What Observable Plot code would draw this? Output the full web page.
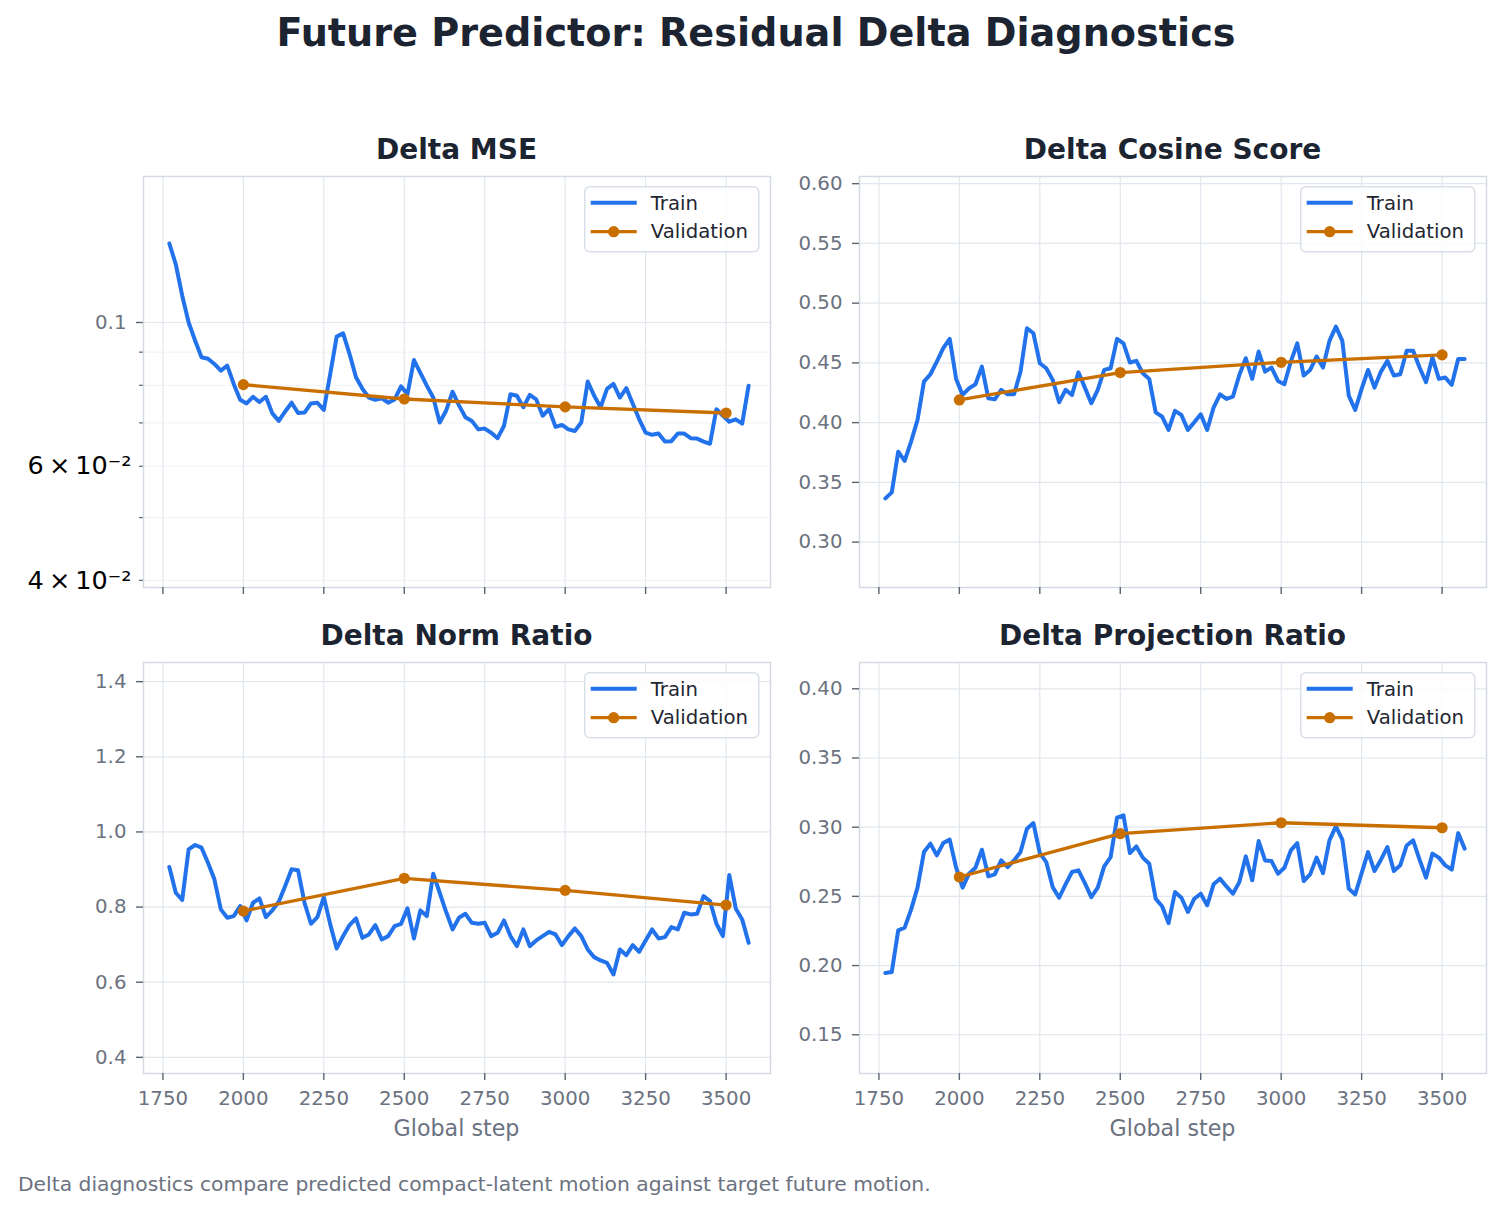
<!DOCTYPE html>
<html>
<head>
<meta charset="utf-8">
<script src="https://cdn.jsdelivr.net/npm/d3@7"></script>
<script src="https://cdn.jsdelivr.net/npm/@observablehq/plot@0.6"></script>
<style>
  body { margin: 0; background: #ffffff; }
  #fig { position: relative; width: 1503px; height: 1213px; overflow: hidden; background: #ffffff;
         font-family: "DejaVu Sans", sans-serif; }
  .txt { position: absolute; white-space: nowrap; line-height: 1; }
</style>
</head>
<body>
<div id="fig"></div>
<script>
// ---- training log: train metrics every 20 steps, validation every 500 ----
const trainSteps = [1770,1790,1810,1830,1850,1870,1890,1910,1930,1950,1970,1990,2010,2030,2050,2070,2090,2110,2130,2150,
  2170,2190,2210,2230,2250,2270,2290,2310,2330,2350,2370,2390,2410,2430,2450,2470,2490,2510,2530,2550,
  2570,2590,2610,2630,2650,2670,2690,2710,2730,2750,2770,2790,2810,2830,2850,2870,2890,2910,2930,2950,
  2970,2990,3010,3030,3050,3070,3090,3110,3130,3150,3170,3190,3210,3230,3250,3270,3290,3310,3330,3350,
  3370,3390,3410,3430,3450,3470,3490,3510,3530,3550,3570];
const valSteps = [2000, 2500, 3000, 3500];

const mseTrain = [0.1324,0.1230,0.1100,0.1000,0.0938,0.0884,0.0879,0.0863,0.0843,0.0858,
  0.0804,0.0760,0.0750,0.0768,0.0754,0.0768,0.0724,0.0705,0.0729,0.0752,
  0.0725,0.0726,0.0750,0.0752,0.0733,0.0833,0.0951,0.0962,0.0894,0.0823,
  0.0790,0.0766,0.0760,0.0764,0.0752,0.0761,0.0797,0.0775,0.0875,0.0836,
  0.0799,0.0766,0.0701,0.0731,0.0782,0.0745,0.0714,0.0705,0.0684,0.0686,
  0.0676,0.0663,0.0693,0.0775,0.0771,0.0740,0.0773,0.0761,0.0718,0.0735,
  0.0690,0.0695,0.0684,0.0680,0.0701,0.0811,0.0771,0.0740,0.0790,0.0804,
  0.0766,0.0792,0.0749,0.0709,0.0676,0.0671,0.0674,0.0655,0.0656,0.0674,
  0.0674,0.0663,0.0662,0.0655,0.0650,0.0735,0.0718,0.0703,0.0709,0.0698,0.0799];
const mseVal = [0.0802, 0.0762, 0.0741, 0.0725];

const cosTrain = [0.3366,0.3416,0.3757,0.3679,0.3841,0.4023,0.4343,0.4405,0.4511,0.4623,
  0.4701,0.4366,0.4232,0.4287,0.4321,0.4469,0.4204,0.4195,0.4274,0.4237,
  0.4237,0.4427,0.4790,0.4748,0.4497,0.4455,0.4358,0.4170,0.4274,0.4232,
  0.4421,0.4293,0.4162,0.4274,0.4441,0.4455,0.4701,0.4664,0.4503,0.4517,
  0.4413,0.4366,0.4086,0.4050,0.3939,0.4098,0.4064,0.3939,0.4003,0.4070,
  0.3939,0.4126,0.4237,0.4198,0.4218,0.4399,0.4539,0.4366,0.4595,0.4427,
  0.4461,0.4349,0.4321,0.4511,0.4664,0.4394,0.4441,0.4553,0.4461,0.4684,
  0.4804,0.4684,0.4226,0.4106,0.4282,0.4441,0.4293,0.4427,0.4517,0.4394,
  0.4405,0.4601,0.4601,0.4461,0.4338,0.4544,0.4366,0.4377,0.4316,0.4533,0.4533];
const cosVal = [0.4190, 0.4419, 0.4505, 0.4567];

const normTrain = [0.9067,0.8381,0.8187,0.9538,0.9653,0.9581,0.9181,0.8739,0.7939,0.7715,
  0.7760,0.8027,0.7645,0.8115,0.8232,0.7733,0.7912,0.8141,0.8560,0.9005,
  0.8979,0.8115,0.7555,0.7733,0.8267,0.7539,0.6899,0.7227,0.7520,0.7699,
  0.7181,0.7272,0.7520,0.7139,0.7227,0.7493,0.7555,0.7965,0.7165,0.7912,
  0.7760,0.8888,0.8381,0.7875,0.7405,0.7715,0.7821,0.7581,0.7555,0.7581,
  0.7227,0.7315,0.7645,0.7227,0.6960,0.7405,0.6960,0.7112,0.7227,0.7341,
  0.7272,0.6987,0.7227,0.7432,0.7227,0.6872,0.6667,0.6579,0.6515,0.6205,
  0.6872,0.6720,0.6987,0.6808,0.7112,0.7405,0.7165,0.7200,0.7467,0.7405,
  0.7848,0.7805,0.7821,0.8293,0.8160,0.7555,0.7227,0.8853,0.7965,0.7672,0.7048];
const normVal = [0.7893, 0.8765, 0.8445, 0.8053];

const projTrain = [0.1946,0.1953,0.2254,0.2274,0.2404,0.2563,0.2820,0.2881,0.2796,0.2885,
  0.2910,0.2707,0.2563,0.2664,0.2707,0.2837,0.2645,0.2659,0.2760,0.2712,
  0.2760,0.2820,0.2989,0.3030,0.2813,0.2748,0.2567,0.2490,0.2587,0.2676,
  0.2688,0.2596,0.2495,0.2563,0.2717,0.2784,0.3069,0.3085,0.2813,0.2861,
  0.2780,0.2736,0.2483,0.2428,0.2307,0.2531,0.2490,0.2387,0.2483,0.2519,
  0.2435,0.2587,0.2628,0.2572,0.2519,0.2603,0.2789,0.2616,0.2900,0.2760,
  0.2755,0.2664,0.2707,0.2832,0.2885,0.2611,0.2659,0.2780,0.2668,0.2905,
  0.3006,0.2910,0.2556,0.2514,0.2668,0.2820,0.2683,0.2765,0.2856,0.2683,
  0.2724,0.2868,0.2905,0.2765,0.2635,0.2809,0.2780,0.2724,0.2693,0.2957,0.2845];
const projVal = [0.2640, 0.2953, 0.3032, 0.2996];

// ---- tick values ----
const stepTicks = [1750, 2000, 2250, 2500, 2750, 3000, 3250, 3500];
const mseMajorTicks = [0.1];
const mseMinorTicks = [0.09, 0.08, 0.07, 0.05];
const mseLabeledMinorTicks = [0.06, 0.04];
const cosTicks = [0.30, 0.35, 0.40, 0.45, 0.50, 0.55, 0.60];
const normTicks = [0.4, 0.6, 0.8, 1.0, 1.2, 1.4];
const projTicks = [0.15, 0.20, 0.25, 0.30, 0.35, 0.40];

// ---- styling ----
const BLUE = "#2272eb";
const ORANGE = "#c96f00";
const INK = "#1b2430";
const MUTED = "#6b7280";
const TICK = "#5b6472";
const GRID = "#e2e7ee";
const FRAME = "#d4dae4";
const FONT = "'DejaVu Sans', sans-serif";

const fig = document.getElementById("fig");
const W = 627, H = 411;          // plot area size of every panel
const stepDomain = [1689.7, 3638];

function rows(steps, values) {
  return steps.map((step, i) => ({step, value: values[i]}));
}

function addText(str, {x, baseline, size, weight = "normal", color = INK, anchor = "start"}) {
  const d = document.createElement("div");
  d.className = "txt";
  d.textContent = str;
  d.style.left = x + "px";
  d.style.top = (baseline - 0.846 * size) + "px";
  d.style.fontSize = size + "px";
  d.style.fontWeight = weight;
  d.style.color = color;
  if (anchor === "middle") d.style.transform = "translateX(-50%)";
  fig.appendChild(d);
}

function addLegend(fl, ft) {
  const ns = "http://www.w3.org/2000/svg";
  const svg = document.createElementNS(ns, "svg");
  svg.setAttribute("width", 177);
  svg.setAttribute("height", 68);
  svg.style.position = "absolute";
  svg.style.left = (fl + W - 10.7 - 175) + "px";
  svg.style.top = (ft + 10) + "px";
  svg.innerHTML = `
    <rect x="0.75" y="0.75" width="174" height="65" rx="5" fill="#ffffff" fill-opacity="0.82"
          stroke="#d9dfe7" stroke-width="1.5"/>
    <line x1="6.7" x2="52.7" y1="16.7" y2="16.7" stroke="${BLUE}" stroke-width="4"/>
    <line x1="6.7" x2="52.7" y1="45.7" y2="45.7" stroke="${ORANGE}" stroke-width="3.3"/>
    <circle cx="29.7" cy="45.7" r="5.6" fill="${ORANGE}"/>
    <text x="66.7" y="24" font-family="DejaVu Sans" font-size="19.7" fill="#1f2733">Train</text>
    <text x="66.7" y="52.3" font-family="DejaVu Sans" font-size="19.7" fill="#1f2733">Validation</text>`;
  fig.appendChild(svg);
}

function panel({fl, ft, title, showX, y, yTicks, yFormat, yExtra = [], train, val}) {
  const marginLeft = 150, marginTop = 12, marginRight = 14;
  const marginBottom = showX ? 60 : 20;
  const plot = Plot.plot({
    width: marginLeft + W + marginRight,
    height: marginTop + H + marginBottom,
    marginLeft, marginTop, marginRight, marginBottom,
    style: {fontFamily: FONT, fontSize: "19.8px", background: "transparent", overflow: "visible", color: INK},
    x: {domain: stepDomain, axis: null},
    y: {...y, axis: null},
    marks: [
      Plot.gridX(stepTicks, {stroke: GRID, strokeOpacity: 1, strokeWidth: 1.2}),
      ...(yTicks ? [Plot.gridY(yTicks, {stroke: GRID, strokeOpacity: 1, strokeWidth: 1.2})] : []),
      ...yExtra,
      Plot.frame({stroke: FRAME, strokeWidth: 1.5}),
      Plot.axisX(stepTicks, {
        anchor: "bottom", tickSize: 7, tickPadding: 10, stroke: TICK, strokeWidth: 1.4,
        fill: MUTED, label: null, tickFormat: showX ? (d => String(d)) : (() => "")
      }),
      ...(yTicks ? [Plot.axisY(yTicks, {
        anchor: "left", tickSize: 7, tickPadding: 10, stroke: TICK, strokeWidth: 1.4,
        fill: MUTED, label: null, tickFormat: yFormat
      })] : []),
      Plot.line(rows(trainSteps, train), {
        x: "step", y: "value", stroke: BLUE, strokeWidth: 4, strokeLinejoin: "round"
      }),
      Plot.line(rows(valSteps, val), {
        x: "step", y: "value", stroke: ORANGE, strokeWidth: 3.3, strokeLinejoin: "round"
      }),
      Plot.dot(rows(valSteps, val), {x: "step", y: "value", r: 5.6, fill: ORANGE, stroke: "none"})
    ]
  });
  plot.style.position = "absolute";
  plot.style.left = (fl - marginLeft) + "px";
  plot.style.top = (ft - marginTop) + "px";
  fig.appendChild(plot);

  addText(title, {x: fl + W / 2, baseline: ft - 16, size: 28, weight: "bold", anchor: "middle"});
  if (showX) addText("Global step", {x: fl + W / 2, baseline: ft + H + 63, size: 22.2, color: MUTED, anchor: "middle"});
  addLegend(fl, ft);
}

// Figure title
addText("Future Predictor: Residual Delta Diagnostics",
  {x: 756, baseline: 46, size: 38.2, weight: "bold", anchor: "middle"});

// Delta MSE on a log axis: major tick at 0.1, minor ticks with math-style labels
panel({
  fl: 143, ft: 176, title: "Delta MSE", showX: false,
  y: {type: "log", domain: [0.039, 0.168]},
  yTicks: null,
  yExtra: [
    Plot.gridY([...mseMinorTicks, ...mseLabeledMinorTicks], {stroke: "#eff2f6", strokeOpacity: 1, strokeWidth: 1}),
    Plot.gridY(mseMajorTicks, {stroke: GRID, strokeOpacity: 1, strokeWidth: 1.2}),
    Plot.axisY(mseMajorTicks, {anchor: "left", tickSize: 7, tickPadding: 10, stroke: TICK, strokeWidth: 1.4,
      fill: MUTED, label: null, tickFormat: d => String(d)}),
    Plot.axisY(mseMinorTicks, {anchor: "left", tickSize: 4, stroke: TICK, strokeWidth: 1.2,
      label: null, tickFormat: () => ""}),
    Plot.axisY(mseLabeledMinorTicks, {anchor: "left", tickSize: 4, tickPadding: 8, stroke: TICK, strokeWidth: 1.2,
      fill: "#000000", fontSize: 25.5, label: null,
      tickFormat: d => `${Math.round(d * 100)}\u2009×\u200910⁻²`})
  ],
  train: mseTrain, val: mseVal
});

panel({
  fl: 859, ft: 176, title: "Delta Cosine Score", showX: false,
  y: {domain: [0.262, 0.606]}, yTicks: cosTicks, yFormat: d3.format(".2f"),
  train: cosTrain, val: cosVal
});

panel({
  fl: 143, ft: 662, title: "Delta Norm Ratio", showX: true,
  y: {domain: [0.357, 1.451]}, yTicks: normTicks, yFormat: d3.format(".1f"),
  train: normTrain, val: normVal
});

panel({
  fl: 859, ft: 662, title: "Delta Projection Ratio", showX: true,
  y: {domain: [0.122, 0.419]}, yTicks: projTicks, yFormat: d3.format(".2f"),
  train: projTrain, val: projVal
});

// Caption
addText("Delta diagnostics compare predicted compact-latent motion against target future motion.",
  {x: 18, baseline: 1191, size: 20.3, color: MUTED});
</script>
</body>
</html>
